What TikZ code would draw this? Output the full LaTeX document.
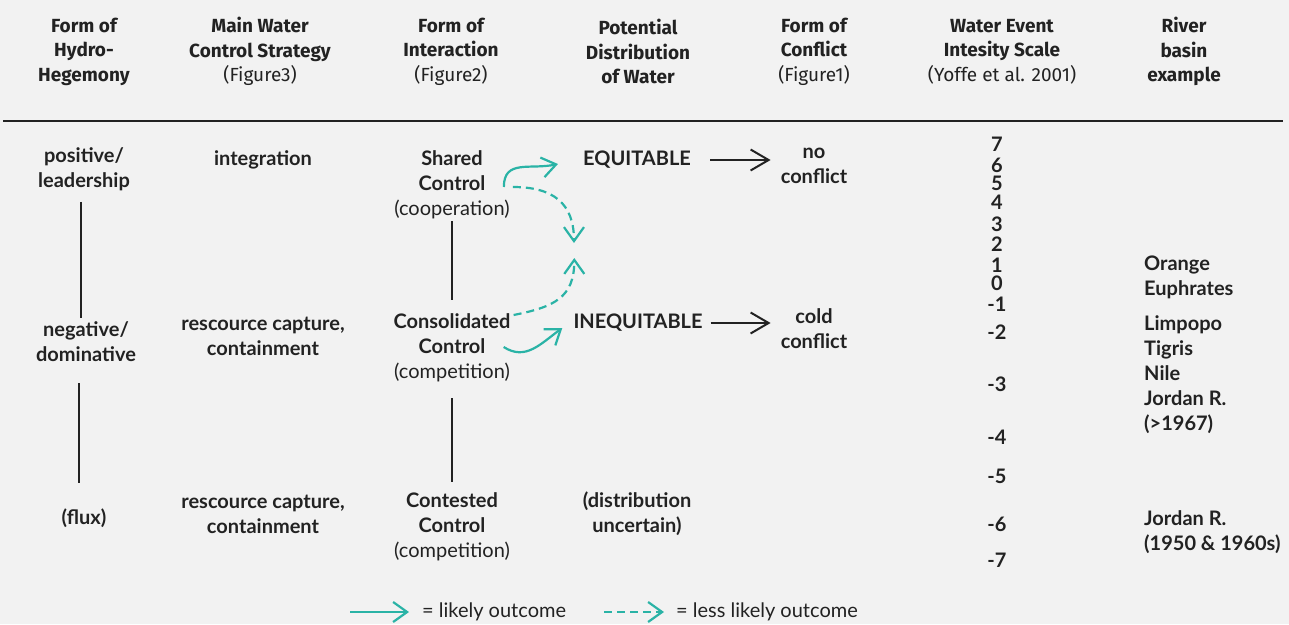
\documentclass[tikz,border=0pt]{standalone}
\usepackage{fontspec}
\setmainfont{Lato}
\newfontfamily\headfont{Fira Sans}
\usepackage{xcolor}
\usepackage{tikz}
\usetikzlibrary{arrows.meta,positioning}

\definecolor{paper}{HTML}{F2F2F2}
\definecolor{ink}{HTML}{222222}
\definecolor{flowteal}{HTML}{2AB3A6}

\begin{document}
\begin{tikzpicture}[x=1pt,y=-1pt,
  head/.style={font=\headfont\fontsize{19}{24.5}\selectfont\bfseries, text=ink, align=center, inner sep=0pt, yshift=-2pt},
  cell/.style={font=\fontsize{20}{25}\selectfont\bfseries, text=ink, align=center, inner sep=0pt, yshift=-2pt},
  legtext/.style={font=\fontsize{20}{25}\selectfont, text=ink, inner sep=0pt},
  link/.style={draw=ink, line width=2pt},
  flow/.style={draw=ink, line width=2pt, -{Straight Barb[length=18pt,width=21pt]}},
  likely/.style={draw=flowteal, line width=2.2pt, -{Straight Barb[length=14pt,width=20pt]}},
  lesslikely/.style={likely, dash pattern=on 8pt off 5pt}]
\fill[paper] (0,0) rectangle (1289,624);
\useasboundingbox (0,0) rectangle (1289,624);

% column heads
\node[head] (h1) at (84,49.5)   {Form of\\Hydro-\\Hegemony};
\node[head] (h2) at (260,49.5)  {Main Water\\Control Strategy\\\mdseries(Figure3)};
\node[head] (h3) at (451,49.5)  {Form of\\Interaction\\\mdseries(Figure2)};
\node[head] (h4) at (638,49.5)  {Potential\\Distribution\\of Water};
\node[head] (h5) at (814,49.5)  {Form of\\Conflict\\\mdseries(Figure1)};
\node[head] (h6) at (1002,49.5) {Water Event\\Intesity Scale\\\mdseries(Yoffe et al. 2001)};
\node[head] (h7) at (1184,49.5) {River\\basin\\example};
\draw[ink, line width=2.5pt] (3,121) -- (1283,121);

% hydro-hegemony
\node[cell] (pos)  at (84,167)  {positive/\\leadership};
\node[cell] (neg)  at (86,340)  {negative/\\dominative};
\node[cell] (flux) at (84,516)  {(flux)};
\draw[link, shorten <=11pt, shorten >=4pt] (pos.south -| 81,0) -- (neg.north -| 81,0);
\draw[link, shorten <=21pt, shorten >=25pt] (neg.south -| 79,0) -- (flux.north -| 79,0);

% control strategy
\node[cell] (integ) at (263,158) {integration};
\node[cell] (capt1) at (263,334) {rescource capture,\\containment};
\node[cell] (capt2) at (263,512) {rescource capture,\\containment};

% interaction
\node[cell] (shared) at (452,183) {Shared\\Control\\\mdseries(cooperation)};
\node[cell] (consol) at (452,346) {Consolidated\\Control\\\mdseries(competition)};
\node[cell] (contest) at (452,525) {Contested\\Control\\\mdseries(competition)};
\draw[link, shorten <=2pt, shorten >=14pt] (shared) -- (consol);
\draw[link, shorten <=16pt, shorten >=11pt] (consol) -- (contest);

% distribution
\node[cell] (equ)   at (637,158) {EQUITABLE};
\node[cell] (inequ) at (638,321) {INEQUITABLE};
\node[cell] (uncert) at (637,512) {(distribution\\uncertain)};

% conflict
\node[cell] (nocon)   at (814,164) {no\\conflict};
\node[cell] (coldcon) at (814,327) {cold\\conflict};
\draw[flow, shorten <=19pt, shorten >=10pt] (equ.east) -- (equ.east -| nocon.west);
\draw[flow, shorten <=8pt, shorten >=10pt] (inequ.east) -- (inequ.east -| coldcon.west);

% outcomes
\draw[likely] ([shift={(-6,2)}]shared.east) .. controls +(0,-28) and +(-28,6) .. ([xshift=-25,yshift=-4]equ.west);
\draw[lesslikely] ([shift={(3,2)}]shared.east) .. controls +(40,0) and +(0,-40) .. ([shift={(-9,83)}]equ.west);
\draw[lesslikely] ([shift={(3,-33)}]consol.east) .. controls +(40,-8) and +(0,40) .. ([shift={(1,-65)}]inequ.west);
\draw[likely] ([shift={(-7,-1)}]consol.east) .. controls +(22,14) and +(-22,16) .. ([shift={(-11,5)}]inequ.west);

% water event scale
\foreach \v/\y in {7/142,6/163,5/181,4/200,3/222,2/242,1/263,0/281,-1/302,-2/330,-3/382,-4/435,-5/474,-6/522,-7/558}
  \node[cell] (s\v) at (997,\y) {\v};

% basins
\node[cell, align=left, anchor=west] (bas1) at (1144,275.5) {Orange\\Euphrates};
\node[cell, align=left, anchor=west] (bas2) at (1144,372.5) {Limpopo\\Tigris\\Nile\\Jordan R.\\(>1967)};
\node[cell, align=left, anchor=west] (bas3) at (1144,530.5) {Jordan R.\\(1950 \& 1960s)};

% legend
\node[legtext, anchor=west] (leg1) at (422,612) {= likely outcome};
\node[legtext, anchor=west] (leg2) at (676,612) {= less likely outcome};
\coordinate (leg1a) at (350,612);
\coordinate (leg2a) at (604,612);
\draw[likely, shorten >=13pt] (leg1a) -- (leg1.west);
\draw[lesslikely, shorten >=12pt] (leg2a) -- (leg2.west);
\end{tikzpicture}
\end{document}
